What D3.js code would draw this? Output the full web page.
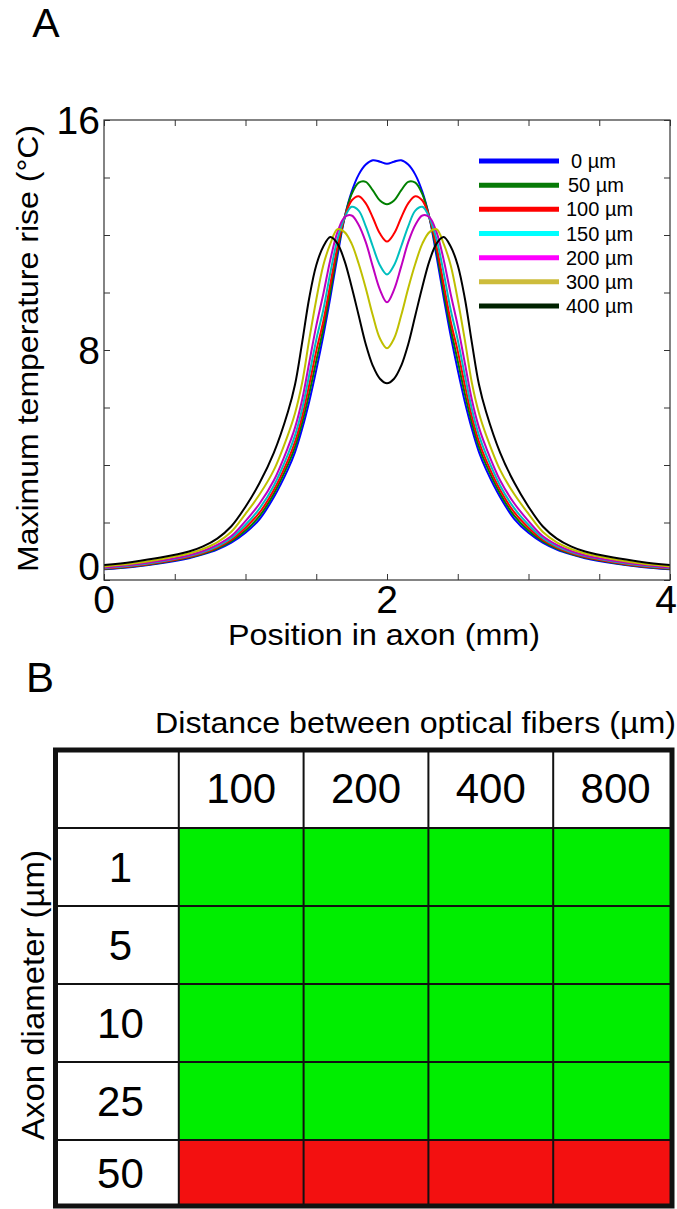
<!DOCTYPE html>
<html>
<head>
<meta charset="utf-8">
<script src="https://cdn.jsdelivr.net/npm/d3@7"></script>
<style>
  html, body { margin: 0; padding: 0; background: #fff; }
  svg { display: block; }
  text { font-family: "Liberation Sans", Arial, Helvetica, sans-serif; fill: #000; }
</style>
</head>
<body>
<svg id="fig" width="677" height="1209"></svg>
<script>
// ---------- Panel A data ----------
const positions = [0,0.2,0.4,0.6,0.7,0.8,0.9,1.0,1.1,1.2,1.3,1.35,1.4,1.45,1.5,1.55,1.6,1.65,1.7,1.75,1.8,1.85,1.9,1.95,2.0,
                   2.05,2.1,2.15,2.2,2.25,2.3,2.35,2.4,2.45,2.5,2.55,2.6,2.65,2.7,2.8,2.9,3.0,3.1,3.2,3.3,3.4,3.6,3.8,4.0];

const temp0 = [0.37,0.45,0.58,0.76,0.89,1.06,1.3,1.64,2.12,2.88,3.85,4.45,5.25,6.2,7.3,8.5,9.84,11.27,12.6,13.5,14.1,14.45,14.6,14.55,14.48,
               14.55,14.6,14.45,14.1,13.5,12.6,11.27,9.84,8.5,7.3,6.2,5.25,4.45,3.85,2.88,2.12,1.64,1.3,1.06,0.89,0.76,0.58,0.45,0.37];
const temp50 = [0.38,0.47,0.6,0.78,0.91,1.09,1.35,1.72,2.23,3.0,4.01,4.63,5.46,6.48,7.62,8.75,10.05,11.45,12.6,13.42,13.82,13.85,13.55,13.2,13.07,
                13.2,13.55,13.85,13.82,13.42,12.6,11.45,10.05,8.75,7.62,6.48,5.46,4.63,4.01,3.0,2.23,1.72,1.35,1.09,0.91,0.78,0.6,0.47,0.38];
const temp100 = [0.4,0.48,0.62,0.8,0.94,1.13,1.4,1.82,2.35,3.13,4.17,4.81,5.68,6.78,7.96,9.0,10.3,11.6,12.6,13.2,13.35,13.1,12.6,12.05,11.77,
                 12.05,12.6,13.1,13.35,13.2,12.6,11.6,10.3,9.0,7.96,6.78,5.68,4.81,4.17,3.13,2.35,1.82,1.4,1.13,0.94,0.8,0.62,0.48,0.4];
const temp150 = [0.41,0.5,0.64,0.83,0.97,1.17,1.46,1.92,2.49,3.28,4.37,5.03,5.94,7.12,8.35,9.4,10.7,11.85,12.6,12.98,12.85,12.3,11.6,10.95,10.63,
                 10.95,11.6,12.3,12.85,12.98,12.6,11.85,10.7,9.4,8.35,7.12,5.94,5.03,4.37,3.28,2.49,1.92,1.46,1.17,0.97,0.83,0.64,0.5,0.41];
const temp200 = [0.43,0.53,0.67,0.86,1.01,1.22,1.53,2.05,2.66,3.46,4.61,5.3,6.26,7.55,8.84,9.95,11.15,12.1,12.62,12.68,12.35,11.75,10.9,10.1,9.66,
                 10.1,10.9,11.75,12.35,12.68,12.62,12.1,11.15,9.95,8.84,7.55,6.26,5.3,4.61,3.46,2.66,2.05,1.53,1.22,1.01,0.86,0.67,0.53,0.43];
const temp300 = [0.47,0.57,0.72,0.92,1.08,1.31,1.68,2.3,2.98,3.82,5.05,5.8,6.85,8.35,9.75,10.95,11.7,12.2,12.1,11.7,11.0,10.15,9.2,8.4,8.06,
                 8.4,9.2,10.15,11.0,11.7,12.1,12.2,11.7,10.95,9.75,8.35,6.85,5.8,5.05,3.82,2.98,2.3,1.68,1.31,1.08,0.92,0.72,0.57,0.47];
const temp400 = [0.52,0.63,0.78,0.99,1.17,1.44,1.87,2.55,3.38,4.42,5.85,6.8,8.25,9.8,10.95,11.6,11.93,11.7,11.1,10.2,9.2,8.2,7.45,7.0,6.84,
                 7.0,7.45,8.2,9.2,10.2,11.1,11.7,11.93,11.6,10.95,9.8,8.25,6.8,5.85,4.42,3.38,2.55,1.87,1.44,1.17,0.99,0.78,0.63,0.52];

const seriesLabels = ["0 µm","50 µm","100 µm","150 µm","200 µm","300 µm","400 µm"];
const seriesValues = [temp0, temp50, temp100, temp150, temp200, temp300, temp400];
const lineColors   = ["#0000ff","#008000","#ff0000","#00bfbf","#bf00bf","#bfbf00","#000000"];
const legendColors = ["#0000ff","#077a07","#ff0000","#00ffff","#ff00ff","#cdbc3c","#002200"];

const xTickLabels = [0, 2, 4];
const yTickLabels = [0, 8, 16];

// ---------- Panel B data ----------
const fiberDistances = ["100","200","400","800"];
const axonDiameters = ["1","5","10","25","50"];
const heatingOK = [
  [1,1,1,1],
  [1,1,1,1],
  [1,1,1,1],
  [1,1,1,1],
  [0,0,0,0]
];

// ---------- Drawing ----------
const svg = d3.select("#fig");

// Panel labels
svg.append("text").attr("x", 46).attr("y", 37).attr("text-anchor", "middle")
  .style("font-size", "41px").text("A");
svg.append("text").attr("x", 40).attr("y", 692).attr("text-anchor", "middle")
  .style("font-size", "42px").text("B");

// Panel A plot area
const plot = { left: 104, right: 670, top: 120, bottom: 580 };
const x = d3.scaleLinear().domain([0, 4]).range([plot.left, plot.right]);
const y = d3.scaleLinear().domain([0, 16]).range([plot.bottom, plot.top]);

const gA = svg.append("g");

// Ticks (inward, all four sides)
const axisColor = "#333";
const xt = d3.range(0, 4.001, 0.5);
const yt = d3.range(0, 16.001, 2);
const tickLen = 6;
gA.append("g").call(d3.axisBottom(x).tickValues(xt).tickSize(-tickLen).tickFormat(""))
  .attr("transform", `translate(0,${plot.bottom})`);
gA.append("g").call(d3.axisTop(x).tickValues(xt).tickSize(-tickLen).tickFormat(""))
  .attr("transform", `translate(0,${plot.top})`);
gA.append("g").call(d3.axisLeft(y).tickValues(yt).tickSize(-tickLen).tickFormat(""))
  .attr("transform", `translate(${plot.left},0)`);
gA.append("g").call(d3.axisRight(y).tickValues(yt).tickSize(-tickLen).tickFormat(""))
  .attr("transform", `translate(${plot.right},0)`);
gA.selectAll(".domain").remove();
gA.selectAll(".tick line").attr("stroke", axisColor).attr("stroke-width", 1);

// Curves
svg.append("clipPath").attr("id", "plotclip").append("rect")
  .attr("x", plot.left).attr("y", plot.top)
  .attr("width", plot.right - plot.left).attr("height", plot.bottom - plot.top);

const line = d3.line()
  .x((d, i) => x(positions[i]))
  .y(d => y(d))
  .curve(d3.curveCatmullRom.alpha(0.5));

gA.append("g").attr("clip-path", "url(#plotclip)")
  .selectAll("path").data(seriesValues).join("path")
  .attr("d", d => line(d))
  .attr("fill", "none")
  .attr("stroke", (d, i) => lineColors[i])
  .attr("stroke-width", 2)
  .attr("stroke-linejoin", "round");

// Box
gA.append("rect")
  .attr("x", plot.left).attr("y", plot.top)
  .attr("width", plot.right - plot.left).attr("height", plot.bottom - plot.top)
  .attr("fill", "none").attr("stroke", axisColor).attr("stroke-width", 1.2);

// Tick labels
gA.selectAll(".xlab").data(xTickLabels).join("text")
  .attr("class", "xlab")
  .attr("x", d => d === 4 ? 677 : x(d)).attr("y", plot.bottom + 33)
  .attr("text-anchor", d => d === 4 ? "end" : "middle").style("font-size", "39px")
  .text(d => d);
gA.selectAll(".ylab").data(yTickLabels).join("text")
  .attr("class", "ylab")
  .attr("x", plot.left - 4)
  .attr("y", d => y(d) + 14 - (d === 0 ? 14 : 0))
  .attr("text-anchor", "end").style("font-size", "39px")
  .text(d => d);

// Axis titles
gA.append("text")
  .attr("x", 384).attr("y", 645)
  .attr("text-anchor", "middle").style("font-size", "30px")
  .attr("textLength", 312).attr("lengthAdjust", "spacingAndGlyphs")
  .text("Position in axon (mm)");
gA.append("text")
  .attr("transform", `translate(38,${(125 + 572) / 2}) rotate(-90)`)
  .attr("text-anchor", "middle").style("font-size", "30px")
  .attr("textLength", 447).attr("lengthAdjust", "spacingAndGlyphs")
  .text("Maximum temperature rise (°C)");

// Legend
const legend = gA.append("g");
const legY = d3.scaleLinear().domain([0, 6]).range([161, 306]);
const legItems = legend.selectAll("g").data(seriesLabels).join("g")
  .attr("transform", (d, i) => `translate(0,${legY(i)})`);
legItems.append("line")
  .attr("x1", 479).attr("x2", 559).attr("y1", 0).attr("y2", 0)
  .attr("stroke", (d, i) => legendColors[i]).attr("stroke-width", 5);
legItems.append("text")
  .attr("x", (d, i) => 566 + (i === 0 ? 5 : i === 1 ? 2 : 0)).attr("y", 7)
  .style("font-size", "20px")
  .text(d => d);

// ---------- Panel B table ----------
const table = { left: 54, right: 672, top: 750, bottom: 1206 };
const colBand = d3.scaleBand().domain(["", ...fiberDistances]).range([54, 678]);
const rowBand = d3.scaleBand().domain(["", ...axonDiameters]).range([750, 1218]);

const gB = svg.append("g");
svg.append("clipPath").attr("id", "tableclip").append("rect")
  .attr("x", table.left).attr("y", table.top)
  .attr("width", table.right - table.left).attr("height", table.bottom - table.top);
const cells = gB.append("g").attr("clip-path", "url(#tableclip)");

const cellData = [];
axonDiameters.forEach((r, ri) => fiberDistances.forEach((c, ci) =>
  cellData.push({ r, c, ok: heatingOK[ri][ci] })));

cells.selectAll("rect.cell").data(cellData).join("rect")
  .attr("class", "cell")
  .attr("x", d => colBand(d.c)).attr("y", d => rowBand(d.r))
  .attr("width", colBand.bandwidth()).attr("height", rowBand.bandwidth())
  .attr("fill", d => d.ok ? "#00ee00" : "#f31010");

// Grid lines
const colEdges = fiberDistances.map(c => colBand(c));
const rowEdges = axonDiameters.map(r => rowBand(r));
cells.selectAll("line.v").data(colEdges).join("line")
  .attr("class", "v")
  .attr("x1", d => d).attr("x2", d => d)
  .attr("y1", table.top).attr("y2", table.bottom)
  .attr("stroke", "#111").attr("stroke-width", 2);
cells.selectAll("line.h").data(rowEdges).join("line")
  .attr("class", "h")
  .attr("x1", table.left).attr("x2", table.right)
  .attr("y1", d => d).attr("y2", d => d)
  .attr("stroke", "#111").attr("stroke-width", 2);

// Outer border
gB.append("rect")
  .attr("x", table.left + 1.5).attr("y", table.top)
  .attr("width", table.right - table.left - 1.5).attr("height", table.bottom - table.top)
  .attr("fill", "none").attr("stroke", "#111").attr("stroke-width", 5);

// Header labels
gB.selectAll("text.hdr").data(fiberDistances).join("text")
  .attr("class", "hdr")
  .attr("x", d => colBand(d) + colBand.bandwidth() / 2)
  .attr("y", rowBand("") + rowBand.bandwidth() / 2 + 14)
  .attr("text-anchor", "middle").style("font-size", "42px")
  .text(d => d);

// Row labels
gB.selectAll("text.rowlab").data(axonDiameters).join("text")
  .attr("class", "rowlab")
  .attr("x", colBand("") + colBand.bandwidth() / 2 + 4)
  .attr("y", d => {
    const y0 = rowBand(d), y1 = Math.min(y0 + rowBand.bandwidth(), table.bottom);
    return (y0 + y1) / 2 + 15;
  })
  .attr("text-anchor", "middle").style("font-size", "42px")
  .text(d => d);

// Titles
gB.append("text")
  .attr("x", 155).attr("y", 733)
  .style("font-size", "30px")
  .attr("textLength", 521).attr("lengthAdjust", "spacingAndGlyphs")
  .text("Distance between optical fibers (µm)");
gB.append("text")
  .attr("transform", `translate(44,995) rotate(-90)`)
  .attr("text-anchor", "middle").style("font-size", "31px")
  .attr("textLength", 290).attr("lengthAdjust", "spacingAndGlyphs")
  .text("Axon diameter (µm)");
</script>
</body>
</html>
